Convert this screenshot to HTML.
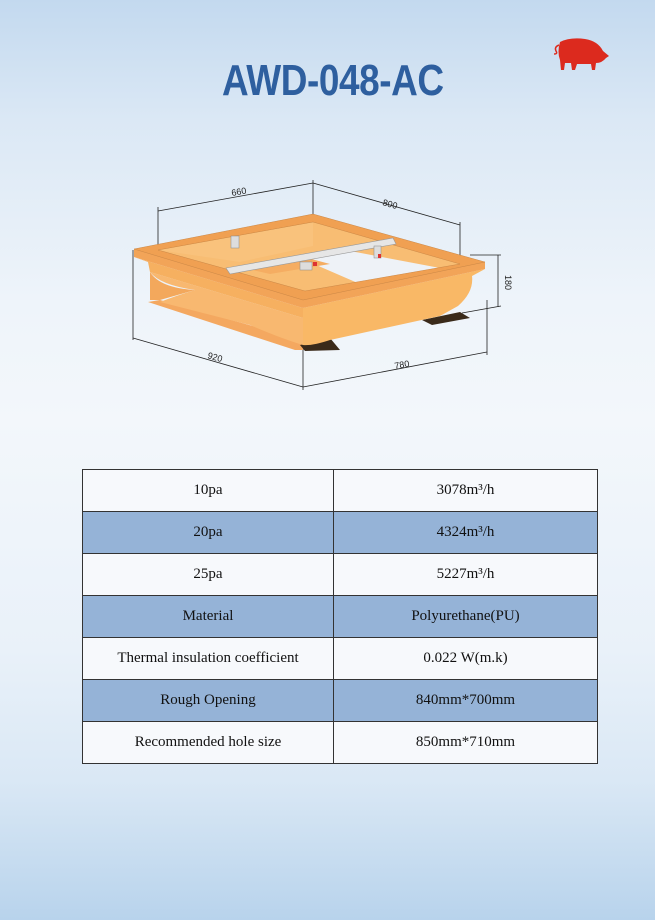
<!DOCTYPE html>
<html><head><meta charset="utf-8"><style>
html,body{margin:0;padding:0}
body{width:655px;height:920px;position:relative;overflow:hidden;
background:linear-gradient(to bottom,#c3d9ef 0px,#dbe8f5 120px,#eef4fa 300px,#f3f7fb 420px,#e9f1f9 650px,#dae8f5 780px,#b8d3ec 920px);
font-family:"Liberation Serif",serif}
.title{position:absolute;left:222px;top:56px;width:271px;font-family:"Liberation Sans",sans-serif;font-weight:bold;font-size:44px;color:#2e5f9f;transform:scaleX(0.84);transform-origin:0 0;line-height:50px;letter-spacing:-0.5px}
table{position:absolute;left:82px;top:469px;width:516px;border-collapse:collapse}
td{border:1px solid #333;height:41px;text-align:center;font-size:15px;color:#111;padding:0}
td:first-child{width:250px}
tr.b td{background:#95b3d7}
tr.w td{background:#f7f9fc}
</style></head><body>
<div class="title">AWD-048-AC</div>
<svg style="position:absolute;left:540px;top:30px" width="80" height="50" viewBox="0 0 80 50">
<path d="M20,12 Q30,7 45,9 Q58,11 63,21 L69,26 L66,28 Q62,33 56,33 L55,40 L52,40 L51,34 L37,34 L35,40 L32,40 L31,33 L25,33 L24,40 L21,40 L20,30 Q17,22 20,12 Z" fill="#dc2a1e"/>
<path d="M19,15 Q14,17 16,21 Q18,24 14,24" fill="none" stroke="#dc2a1e" stroke-width="1.5"/>
</svg>
<svg style="position:absolute;left:0;top:0" width="655" height="420" viewBox="0 0 655 420">
<g fill="none" stroke="#222" stroke-width="0.8">
<line x1="158" y1="211" x2="313" y2="183"/>
<line x1="313" y1="183" x2="460" y2="225"/>
<line x1="158" y1="207" x2="158" y2="249"/>
<line x1="313" y1="180" x2="313" y2="215"/>
<line x1="460" y1="222" x2="460" y2="263"/>
<line x1="133" y1="338" x2="303" y2="387"/>
<line x1="303" y1="387" x2="487" y2="352"/>
<line x1="133" y1="250" x2="133" y2="340"/>
<line x1="303" y1="345" x2="303" y2="390"/>
<line x1="487" y1="300" x2="487" y2="355"/>
<line x1="498" y1="255" x2="498" y2="307"/>
<line x1="470" y1="255" x2="501" y2="255"/>
<line x1="462" y1="313" x2="501" y2="306"/>
</g>
<g font-family="Liberation Sans,sans-serif" font-size="9" fill="#222">
<text x="232" y="196" transform="rotate(-10 232 196)">660</text>
<text x="382" y="205" transform="rotate(16 382 205)">800</text>
<text x="505" y="275" transform="rotate(90 505 275)">180</text>
<text x="207" y="358" transform="rotate(16 207 358)">920</text>
<text x="395" y="369" transform="rotate(-10 395 369)">780</text>
</g>
<!-- inner area -->
<polygon points="158,250 313,222 460,264 305,291" fill="#f8bd73"/>
<polygon points="158,250 313,222 313,246 240,262" fill="#f9c27c"/>
<polygon points="300,258 345,250 440,268 360,284" fill="#eef2f7"/>
<polygon points="235,266 300,256 330,264 270,274" fill="#f5ad62"/>
<!-- flaps / feet -->
<polygon points="148,302 160,300 303,340 303,350 295,350" fill="#f4a860"/>
<polygon points="300,345 330,338 340,350 305,351" fill="#3a2a1a"/>
<polygon points="422,320 460,312 470,318 432,325" fill="#3a2a1a"/>
<!-- left face -->
<path d="M150,272 L303,318 L303,345 Q280,338 250,325 L160,302 Q175,296 195,290 Q160,285 150,272 Z" fill="#f8b870"/>
<path d="M150,272 Q160,288 195,290 L160,300 L150,300 Z" fill="#f3a85c"/>
<polygon points="134,257 303,308 303,318 150,272 148,262" fill="#f6b060"/>
<polygon points="134,249 303,300 303,308 134,257" fill="#f2a458"/>
<!-- right face -->
<path d="M303,308 L485,269 L472,276 Q474,292 458,306 L440,316 L330,340 Q312,346 303,345 Z" fill="#f9b866"/>
<polygon points="303,300 485,262 485,269 303,308" fill="#f2a458"/>
<!-- top band -->
<path fill-rule="evenodd" d="M134,249 L313,214 L485,262 L303,300 Z M158,250 L305,291 L460,264 L313,222 Z" fill="#f0a052" stroke="#c07a36" stroke-width="0.4"/>
<!-- bar -->
<polygon points="226,268 393,238 396,244 230,274" fill="#e6e6e6" stroke="#999" stroke-width="0.6"/>
<rect x="231" y="236" width="8" height="12" fill="#ddd" stroke="#888" stroke-width="0.5"/>
<rect x="374" y="246" width="7" height="12" fill="#ddd" stroke="#888" stroke-width="0.5"/>
<rect x="300" y="262" width="12" height="8" fill="#ddd" stroke="#888" stroke-width="0.5"/>
<rect x="313" y="262" width="4" height="4" fill="#d33"/>
<rect x="378" y="254" width="3" height="4" fill="#d33"/>
</svg>
<table>
<tr class="w"><td>10pa</td><td>3078m³/h</td></tr>
<tr class="b"><td>20pa</td><td>4324m³/h</td></tr>
<tr class="w"><td>25pa</td><td>5227m³/h</td></tr>
<tr class="b"><td>Material</td><td>Polyurethane(PU)</td></tr>
<tr class="w"><td>Thermal insulation coefficient</td><td>0.022 W(m.k)</td></tr>
<tr class="b"><td>Rough Opening</td><td>840mm*700mm</td></tr>
<tr class="w"><td>Recommended hole size</td><td>850mm*710mm</td></tr>
</table>
</body></html>
